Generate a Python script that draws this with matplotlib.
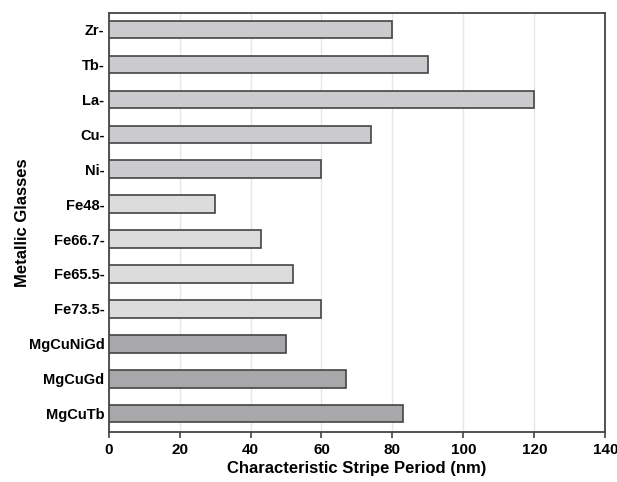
import matplotlib.pyplot as plt

plt.rcParams['font.family'] = ['Liberation Sans', 'DejaVu Sans']
plt.rcParams['font.weight'] = 'bold'

# bottom to top
glasses = ["MgCuTb", "MgCuGd", "MgCuNiGd", "Fe73.5-", "Fe65.5-", "Fe66.7-",
           "Fe48-", "Ni-", "Cu-", "La-", "Tb-", "Zr-"]
period = [83, 67, 50, 60, 52, 43, 30, 60, 74, 120, 90, 80]
colors = ["#a8a8aa"] * 3 + ["#dcdcdc"] * 4 + ["#cbcbcd"] * 5

fig, ax = plt.subplots(figsize=(6.17, 4.82), dpi=100)
fig.subplots_adjust(left=0.176, right=0.981, top=0.973, bottom=0.104)

ax.barh(range(len(glasses)), period, height=0.5, color=colors,
        edgecolor="#444444", linewidth=1.2, zorder=3)

ax.set_xlim(0, 140)
ax.set_ylim(-0.52, 11.47)
ax.set_xticks(range(0, 141, 20))
ax.set_yticks(range(len(glasses)))
ax.set_yticklabels(glasses)
ax.xaxis.grid(True, color="#e6e6e6", linewidth=1, zorder=0)

ax.tick_params(axis="y", length=0, pad=3, labelsize=10.5)
ax.tick_params(axis="x", direction="out", length=4, width=1.2,
               color="#444444", labelsize=11, pad=4)
for s in ax.spines.values():
    s.set_color("#444444")
    s.set_linewidth(1.3)

ax.set_xlabel("Characteristic Stripe Period (nm)", fontsize=12, fontweight="bold", labelpad=3)
ax.set_ylabel("Metallic Glasses", fontsize=12, fontweight="bold")
ax.yaxis.set_label_coords(-0.158, 0.5)

fig.savefig("out.png", dpi=100)
